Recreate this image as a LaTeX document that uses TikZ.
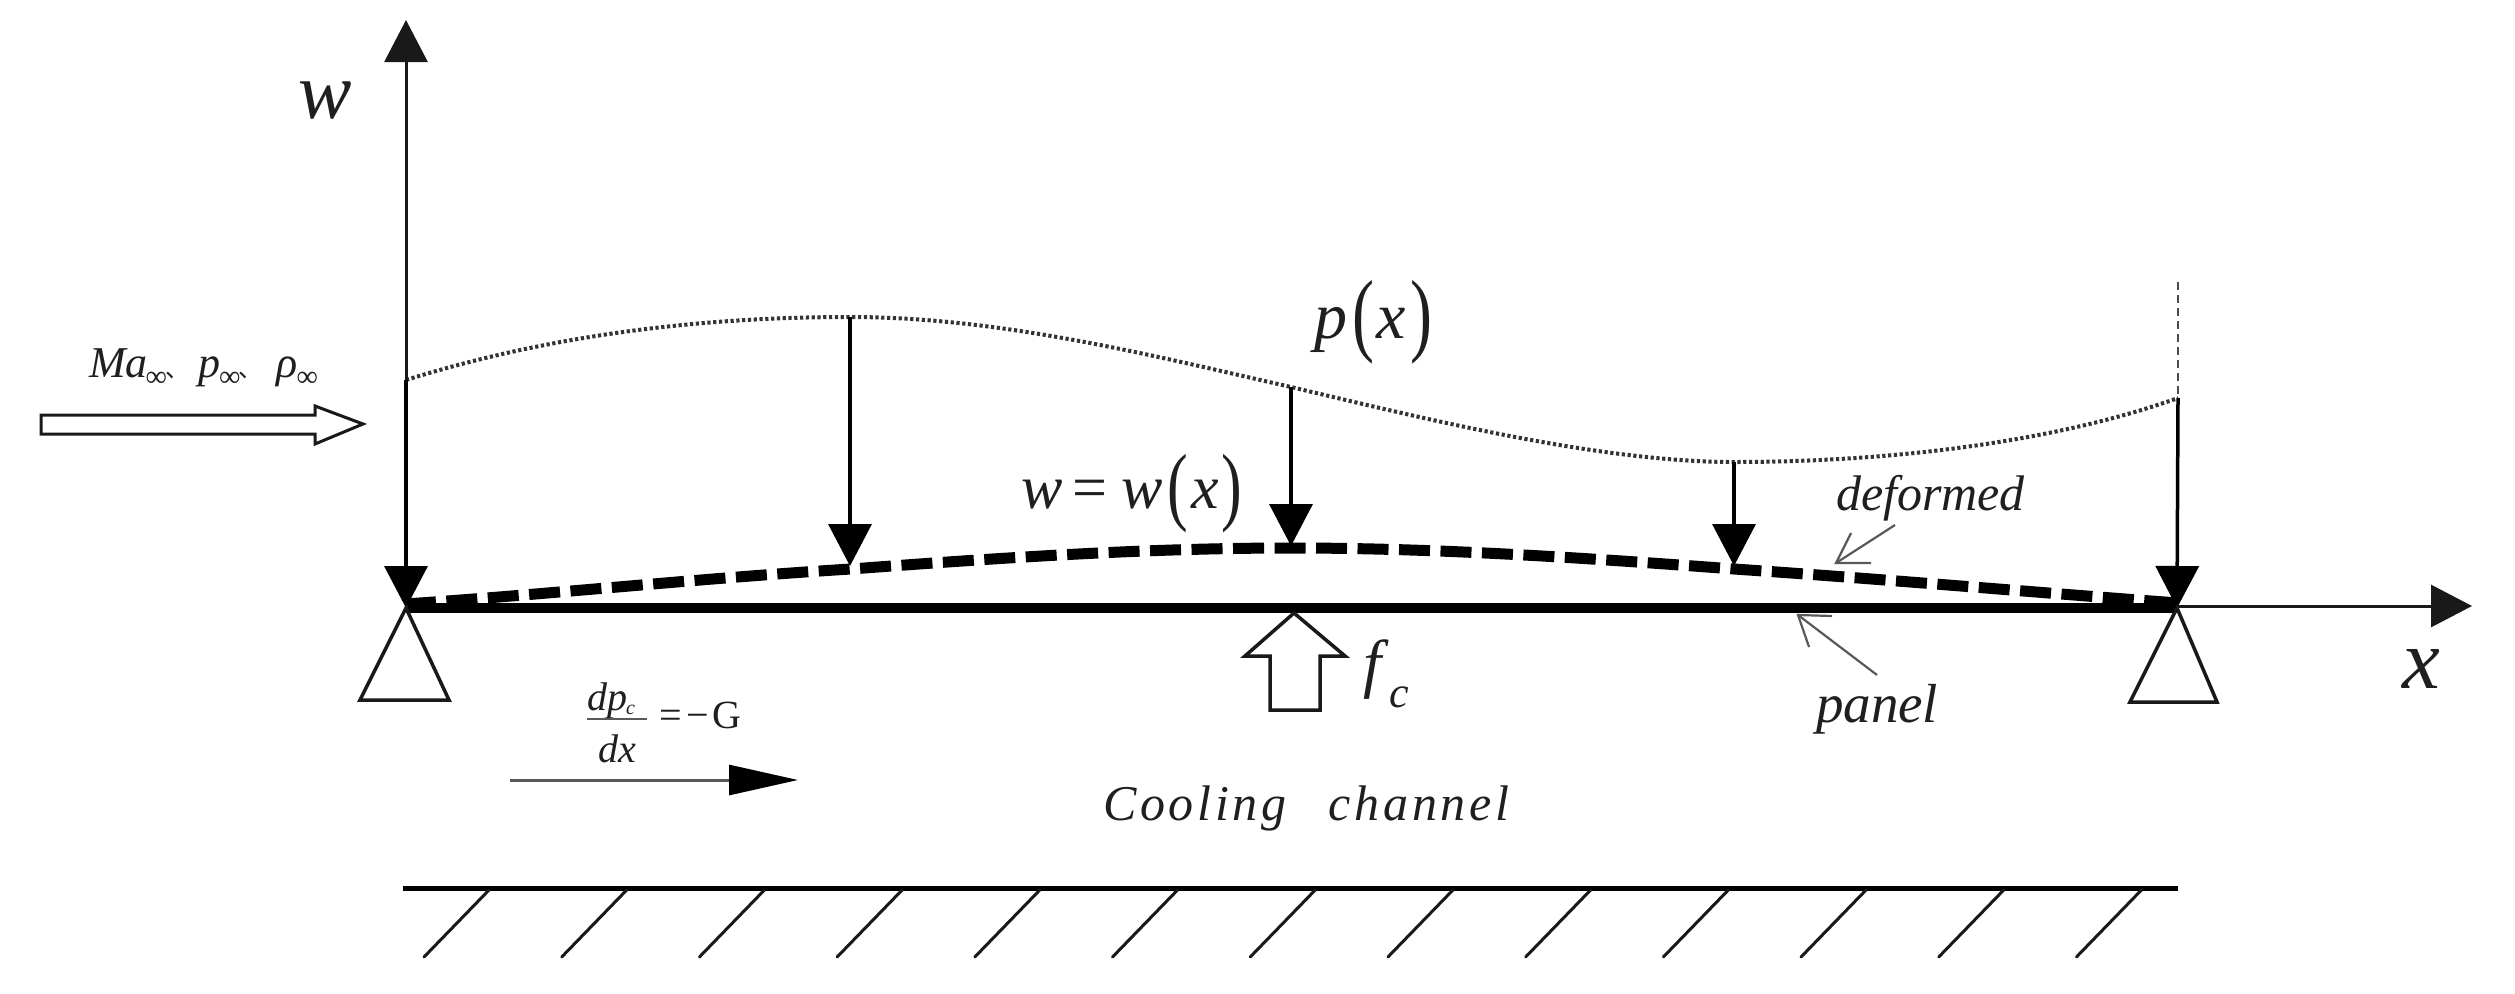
\documentclass[tikz,border=0pt]{standalone}
\usepackage{fontspec}
\usepackage{graphicx}
\usetikzlibrary{arrows.meta}
\setmainfont{Liberation Serif}
\newfontfamily\cjkf{Noto Sans CJK SC}
\newcommand{\tf}[1]{\fontsize{#1}{#1}\selectfont\itshape}
\newcommand{\bigpar}[1]{\raisebox{-6pt}{\scalebox{1}[1.4]{\upshape #1}}}
\newcommand{\infsub}{\raisebox{-9pt}{\fontsize{30}{30}\selectfont\upshape ∞}}
\newcommand{\cjkcomma}{{\cjkf\fontsize{24}{24}\selectfont\upshape 、}}
\tikzset{
  lab/.style={inner sep=0pt,outer sep=0pt,anchor=base west,text=black!88},
  axisline/.style={line width=3pt,black!90},
  bighead/.style={-{Triangle[length=42pt,width=43pt]}},
  loadline/.style={line width=3.5pt,black,bighead},
  dotcurve/.style={line width=4pt,black!80,dash pattern=on 3.2pt off 2.6pt},
  defcurve/.style={line width=11pt,black,dash pattern=on 31pt off 10.5pt},
  beamline/.style={line width=10pt,black},
  groundline/.style={line width=5pt,black},
  hatchline/.style={line width=3pt,black!90,line cap=round},
  outline/.style={line width=3.5pt,black!90,fill=white,line join=miter},
  thinarrow/.style={line width=2.2pt,black!65}
}
\begin{document}
\begin{tikzpicture}[x=1pt,y=-1pt]
\useasboundingbox (0,0) rectangle (2515,993);
\fill[white] (0,0) rectangle (2515,993);
% key points
\coordinate (O) at (406,608);
\coordinate (E) at (2177,608);
\coordinate (wtip) at (406,20);
\coordinate (xtip) at (2472,606);
\coordinate (xstart) at (2177,606);
\coordinate (p1) at (406,380);
\coordinate (p2) at (850,317);
\coordinate (p3) at (1291,387);
\coordinate (p4) at (1734,462);
\coordinate (p5) at (2178,398);
\coordinate (d2) at (850,566);
\coordinate (d3) at (1291,546);
\coordinate (d4) at (1734,566);
\coordinate (dtop) at (2178,282);
% curves
\draw[beamline] (O) -- (E);
\draw[defcurve] (405,604) .. controls (553,594) and (703,578) .. (851,569) .. controls (998,558) and (1144,548) .. (1291,548) .. controls (1439,548) and (1586,558) .. (1734,569) .. controls (1882,579) and (2030,592) .. (2178,603);
\draw[dotcurve] (p1) .. controls (550,335) and (700,317) .. (p2) .. controls (1000,317) and (1150,355) .. (p3) .. controls (1430,420) and (1600,462) .. (p4) .. controls (1900,462) and (2060,440) .. (p5);
% axes
\draw[axisline,-{Triangle[length=42pt,width=43pt]}] (O) -- (wtip);
\draw[axisline,-{Triangle[length=41pt,width=42pt]}] (xstart) -- (xtip);
\draw[line width=1.8pt,black!70,dash pattern=on 8pt off 5pt] (dtop) -- (p5);
% loads
\draw[loadline] (p1) -- (O);
\draw[loadline] (p2) -- (d2);
\draw[loadline] (p3) -- (d3);
\draw[loadline] (p4) -- (d4);
\draw[loadline] (p5) -- (E);
% supports
\draw[outline,fill=none] (O) -- (449,700) -- (360,700) -- cycle;
\draw[outline,fill=none] (E) -- (2217,702) -- (2130,702) -- cycle;
% inflow
\draw[outline,line width=3pt] (41,415) -- (315,415) -- (315,406) -- (363,424) -- (315,444) -- (315,434) -- (41,434) -- cycle;
% cooling force
\draw[outline] (1294,613) -- (1345,656) -- (1320,656) -- (1320,710) -- (1270,710) -- (1270,656) -- (1245,656) -- cycle;
% pressure gradient arrow
\coordinate (gs) at (510,780);
\coordinate (ge) at (798,780);
\draw[line width=3pt,black!65,-{Triangle[length=69pt,width=30pt,black]}] (gs) -- (ge);
% ground
\coordinate (g1) at (403,888);
\coordinate (g2) at (2178,888);
\draw[groundline] (g1) -- (g2);
\foreach \i in {0,...,12}
  \draw[hatchline] ({489+137.7*\i},890) -- ({424+137.7*\i},957);
% leader arrows
\coordinate (dfs) at (1895,525);
\coordinate (dft) at (1836,563);
\draw[thinarrow] (dfs) -- (dft);
\draw[thinarrow] (1851,533) -- (dft) -- (1871,563);
\coordinate (pns) at (1877,675);
\coordinate (pnt) at (1798,615);
\draw[thinarrow] (pns) -- (pnt);
\draw[thinarrow] (1809,647) -- (pnt) -- (1832,616);
% labels
\node[lab] (lw) at (298,118) {\tf{80}w};
\node[lab] (lx) at (2402,688) {\tf{85}x};
\node[lab] (lp) at (1314,338) {\tf{66}p\hspace{5pt}\bigpar{(}\hspace{3pt}x\hspace{4pt}\bigpar{)}};
\node[lab] (lww) at (1021,508) {\tf{62}w\hspace{10pt}{\upshape=}\hspace{14pt}w\hspace{5pt}\bigpar{(}\hspace{3pt}x\hspace{3pt}\bigpar{)}};
\node[lab] (ldef) at (1836,510) {\tf{50}deformed};
\node[lab] (lpan) at (1816,722) {\tf{55}panel};
\node[lab] (lcool) at (1103,820) {\tf{50}\addfontfeature{LetterSpace=7.5}Cooling\hspace{42pt}channel};
\node[lab] (lf) at (1363,685) {\tf{65}f\hspace{8pt}\raisebox{-22pt}{\tf{44}c}};
\node[lab] (lma) at (89,377) {\tf{44}Ma\hspace{-2pt}\infsub\hspace{-2pt}\cjkcomma\hspace{9pt}p\hspace{-1pt}\infsub\hspace{-2pt}\cjkcomma\hspace{14pt}ρ\hspace{-1pt}\infsub};
\node[lab] (lnum) at (587,710) {\tf{40}dp\hspace{-1pt}\raisebox{-4pt}{\tf{20}c}};
\draw[line width=2.5pt,black!65] (lnum.base west |- 0,719) -- (647,719);
\node[lab] (lden) at (598,762) {\tf{40}dx};
\node[lab] (leq) at (659,728) {\fontsize{40}{40}\selectfont =\hspace{5pt}−\hspace{3pt}G};
\end{tikzpicture}
\end{document}
